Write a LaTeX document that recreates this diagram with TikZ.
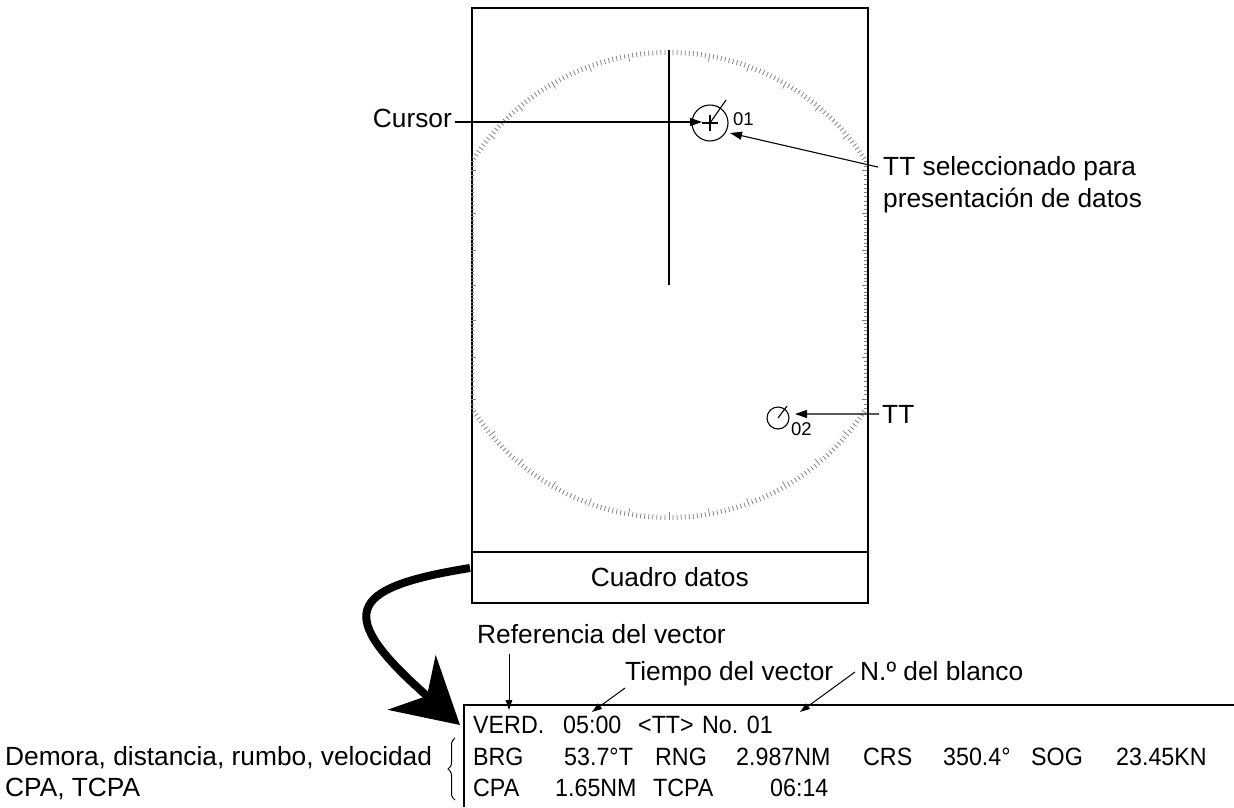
\documentclass[tikz,border=0pt]{standalone}
\usepackage{fontspec}
\setmainfont{Liberation Sans}
\newfontfamily\datafont[FakeStretch=0.93]{Liberation Sans}
\usetikzlibrary{arrows.meta,decorations.pathreplacing}
\begin{document}
\begin{tikzpicture}[x=1pt,y=-1pt,
  lbl/.style={inner sep=0pt, font=\fontsize{26.3}{31}\selectfont},
  dat/.style={inner sep=0pt, anchor=base west, font=\datafont\fontsize{25}{29}\selectfont},
  sml/.style={inner sep=0pt, anchor=base west, font=\fontsize{18.5}{22}\selectfont},
  frame/.style={line width=1.5pt},
  thin/.style={line width=1.1pt},
  arr/.style={line width=1.1pt, -{Triangle[length=12pt,width=8pt]}},
  arrs/.style={line width=1pt, -{Triangle[length=10pt,width=6.5pt]}},
  ring/.style={black!50, line width=0.75pt},
]
\useasboundingbox (0,0) rectangle (1234,807);

% radar screen
\node[draw, frame, minimum width=396pt, minimum height=544pt, anchor=north west, inner sep=0pt] (screen) at (471,7) {};
\node[lbl, draw, frame, minimum width=396pt, minimum height=51pt, anchor=north west] (cuadro) at (471,551) {Cuadro datos};

% range ring with bearing ticks
\coordinate (own) at (669,285);
\foreach \a in {0,...,359}{%
  \pgfmathsetmacro{\cc}{cos(\a)}%
  \pgfmathsetmacro{\ss}{sin(\a)}%
  \pgfmathtruncatemacro{\inside}{abs(235*\cc) <= 198 ? 1 : 0}%
  \pgfmathtruncatemacro{\ten}{mod(\a,10)==0 ? 1 : 0}%
  \pgfmathsetmacro{\len}{\ten==1 ? 8 : 5}%
  \ifnum\inside=1
    \draw[ring] ({669+235*\cc},{285+235*\ss}) -- ({669+(235-\len)*\cc},{285+(235-\len)*\ss});
  \else
    \pgfmathsetmacro{\sg}{\cc>0 ? 1 : -1}%
    \pgfmathsetmacro{\ey}{285+198*\ss/abs(\cc)}%
    \draw[ring] ({669+198*\sg},\ey) -- ({669+(198-0.6*\len)*\sg},\ey);
  \fi
}

% heading line
\coordinate (hdtop) at (669,50);
\draw[line width=1.2pt] (own) -- (hdtop);

% target 01 (selected)
\node[circle, draw, thin, minimum size=36pt, inner sep=0pt] (t01) at (710,123) {};
\draw[thin] (702,123) -- (718,123) (710,115) -- (710,131);
\coordinate (v01) at (726,100);
\draw[thin] (t01.center) -- (v01);
\node[sml] (n01) at (733,125) {01};

% target 02
\node[circle, draw, thin, minimum size=22pt, inner sep=0pt] (t02) at (778,418) {};
\coordinate (v02) at (787,406);
\draw[thin] (t02.center) -- (v02);
\node[sml] (n02) at (791,435) {02};

% labels around the screen
\node[lbl, anchor=base east] (cursor) at (452,127) {Cursor};
\coordinate (curtip) at (702,122);
\draw[arr, shorten <=3pt] (cursor.east |- curtip) -- (curtip);

\node[lbl, anchor=base west] (sel1) at (883,175) {TT seleccionado para};
\node[lbl, anchor=base west] (sel2) at (883,207) {presentación de datos};
\coordinate (seltip) at (730,133);
\draw[arr, shorten <=5pt] (sel1.west) -- (seltip);

\node[lbl, anchor=base west] (tt) at (882,423) {TT};
\coordinate (tttip) at (795,414);
\draw[arr, shorten <=3pt] (tt.west) -- (tttip);

% big arrow
\coordinate (bigstart) at (470,568);
\coordinate (bigtip) at (460,725);
\draw[line width=8pt, -{Stealth[length=64pt,width=72pt,inset=20pt]}] (bigstart) .. controls (345,588) and (335,615) .. (bigtip);

% data box
\coordinate (dbR) at (1234,705);
\coordinate (dbC) at (464,705);
\coordinate (dbB) at (464,807);
\draw[frame] (dbR) -- (dbC) -- (dbB);

\node[lbl, anchor=base west] (ref) at (477,643) {Referencia del vector};
\node[lbl, anchor=base west] (tiempo) at (625,680) {Tiempo del vector};
\node[lbl, anchor=base west] (nro) at (860,680) {N.º del blanco};
\coordinate (refA) at (509,654);
\coordinate (refB) at (509,710);
\coordinate (tieA) at (625,688);
\coordinate (tieB) at (592,712);
\coordinate (nroA) at (855,672);
\coordinate (nroB) at (800,712);
\draw[arrs] (refA) -- (refB);
\draw[arrs] (tieA) -- (tieB);
\draw[arrs] (nroA) -- (nroB);

% data rows
\node[dat] (d11) at (473,733) {VERD.};
\node[dat] (d12) at (563,733) {05:00};
\node[dat] (d13) at (638,733) {<TT>};
\node[dat] (d14) at (702,733) {No. 01};

\node[dat] (d21) at (473,765) {BRG};
\node[dat] (d22) at (564,765) {53.7°T};
\node[dat] (d23) at (655,765) {RNG};
\node[dat] (d24) at (736,765) {2.987NM};
\node[dat] (d25) at (863,765) {CRS};
\node[dat] (d26) at (943,765) {350.4°};
\node[dat] (d27) at (1031,765) {SOG};
\node[dat] (d28) at (1116,765) {23.45KN};

\node[dat] (d31) at (473,796) {CPA};
\node[dat] (d32) at (555,796) {1.65NM};
\node[dat] (d33) at (653,796) {TCPA};
\node[dat] (d34) at (770,796) {06:14};

% left labels and brace
\node[lbl, anchor=base west] (lab1) at (5,765) {Demora, distancia, rumbo, velocidad};
\node[lbl, anchor=base west] (lab2) at (5,796) {CPA, TCPA};
\coordinate (brB) at (455,800);
\coordinate (brT) at (455,738);
\draw[line width=1pt, decorate, decoration={brace, amplitude=7pt}] (brB) -- (brT);
\end{tikzpicture}
\end{document}
